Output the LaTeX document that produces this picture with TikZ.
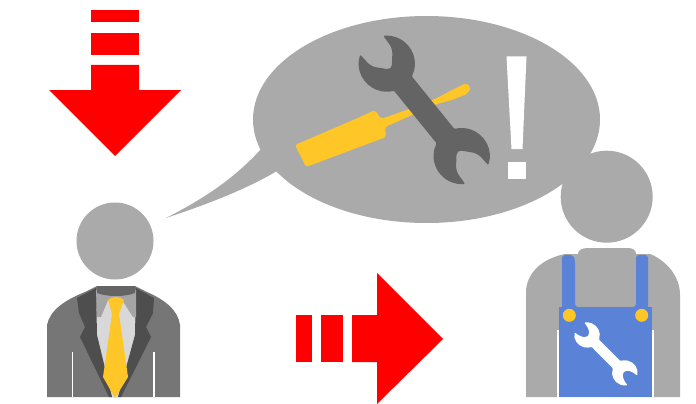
\documentclass[tikz,border=0pt]{standalone}
\usetikzlibrary{calc}
\definecolor{bubblegray}{RGB}{170,170,170}
\definecolor{toolgray}{RGB}{100,100,100}
\definecolor{suitgray}{RGB}{118,118,118}
\definecolor{lapelgray}{RGB}{78,78,78}
\definecolor{collargray}{RGB}{165,165,165}
\definecolor{shirtgray}{RGB}{216,216,216}
\definecolor{tieyellow}{RGB}{255,198,40}
\definecolor{overallblue}{RGB}{90,130,215}
\tikzset{
  redshape/.style={fill=red,draw=none},
  graybody/.style={fill=bubblegray,draw=none},
  whiteslit/.style={draw=white,line width=1.3pt}
}
\newcommand{\wrenchicon}[5]{%
  \begin{scope}[shift={(#2,#3)},rotate=#4,scale=#5]
    \fill[#1,rounded corners=1pt]
      (148:28) arc[start angle=148,end angle=24,radius=28]
      -- (93.4,11.5) arc[start angle=156,end angle=32,radius=28]
      [rounded corners=5pt] -- (127,14) -- (111,0) -- (127,-14) [rounded corners=1pt]
      -- ($(119,0)+(-32:28)$) arc[start angle=-32,end angle=-156,radius=28]
      -- (25.6,-11.5) arc[start angle=-24,end angle=-148,radius=28]
      [rounded corners=5pt] -- (-8,-14) -- (8,0) -- (-8,14) [rounded corners=1pt] -- cycle;
  \end{scope}}
\begin{document}
\begin{tikzpicture}[x=1pt,y=1pt,yscale=-1]
\useasboundingbox (0,0) rectangle (696,404);
% top red arrow
\fill[redshape] (91,10) rectangle (139,22);
\fill[redshape] (91,33) rectangle (139,55);
\fill[redshape] (91,65) -- (139,65) -- (139,90) -- (181,90) -- (115,156) -- (49,90) -- (91,90) -- cycle;
% right red arrow
\fill[redshape] (296,315) rectangle (312,362);
\fill[redshape] (321,315) rectangle (343,362);
\fill[redshape] (352,315) -- (377,315) -- (377,273) -- (443,339) -- (377,404) -- (377,362) -- (352,362) -- cycle;
% speech bubble
\fill[graybody] (426.5,119.5) ellipse[x radius=173.5,y radius=103.5];
\fill[graybody] (262,148) .. controls (235,178) and (205,198) .. (166,218) .. controls (205,205) and (245,190) .. (277,171) -- (300,130) -- cycle;
% screwdriver
\fill[tieyellow,rounded corners=2pt] (295,145) -- (360,117) -- (375,110) -- (381,119) -- (412,108) -- (437,98) -- (452,90) -- (466,83) -- (471,88) -- (467,94) -- (452,100) -- (437,104) -- (385,127) -- (386,137) -- (306,167) -- cycle;
% big wrench
\wrenchicon{toolgray}{386.7}{63.7}{50.9}{1}
% exclamation mark
\fill[white] (506.5,56.5) -- (526.5,56.5) -- (522.5,149) -- (511.5,149) -- cycle;
\fill[white] (507.5,162) rectangle (526,179);
% left person
\fill[graybody] (115,241) circle[radius=38.5];
\fill[suitgray] (47,397) -- (47,325) .. controls (50,310) and (65,300) .. (85,292) -- (97,286) -- (135,286) -- (147,292) .. controls (165,300) and (178,310) .. (180,325) -- (180,397) -- cycle;
\fill[shirtgray] (97,300) -- (135,300) -- (136,335) -- (118,397) -- (112,397) -- (95,335) -- cycle;
\fill[lapelgray] (96,288) -- (77,298) -- (79,313) -- (85,327) -- (80,337) -- (109,397) -- (112,397) -- (97,335) -- cycle;
\fill[lapelgray] (136,288) -- (154,298) -- (153,313) -- (146,327) -- (151,337) -- (121,397) -- (118,397) -- (135,335) -- cycle;
\fill[collargray] (96,290) -- (136,290) -- (136,317) -- (133,317) -- (122,300) -- (108,300) -- (101,317) -- (97,317) -- cycle;
\fill[toolgray] (97,286) -- (135,286) -- (135,293) .. controls (125,297) and (107,297) .. (97,293) -- cycle;
\fill[tieyellow] (108,300) .. controls (112,296) and (120,296) .. (124,300) -- (119,314) -- (128,377) -- (115,398) -- (103,377) -- (112,314) -- cycle;
\draw[whiteslit] (72.5,352) -- (72.5,397);
\draw[whiteslit] (154,352) -- (154,397);
% right person
\fill[graybody] (606.7,196.7) circle[radius=46];
\fill[graybody] (526,397) -- (526,290) .. controls (528,270) and (545,258) .. (565,254) -- (578,254) .. controls (578,250) and (582,248) .. (588,248) -- (627,248) .. controls (633,248) and (636,250) .. (636,254) -- (650,254) .. controls (665,260) and (680,275) .. (680,295) -- (680,397) -- cycle;
\fill[overallblue,rounded corners=3pt] (562,320) -- (562,260) .. controls (562,254) and (573,254) .. (575,260) -- (575,307) -- (636,307) -- (636,260) .. controls (636,254) and (648,254) .. (648,260) -- (648,320) -- cycle;
\fill[overallblue] (559,307) rectangle (652,397);
\fill[white] (557,330) rectangle (559,397);
\fill[white] (652,330) rectangle (654,397);
\fill[tieyellow] (569.3,315.3) circle[radius=6.5];
\fill[tieyellow] (641.7,315.3) circle[radius=6.5];
\wrenchicon{white}{587}{335}{45}{0.45}
\end{tikzpicture}
\end{document}
